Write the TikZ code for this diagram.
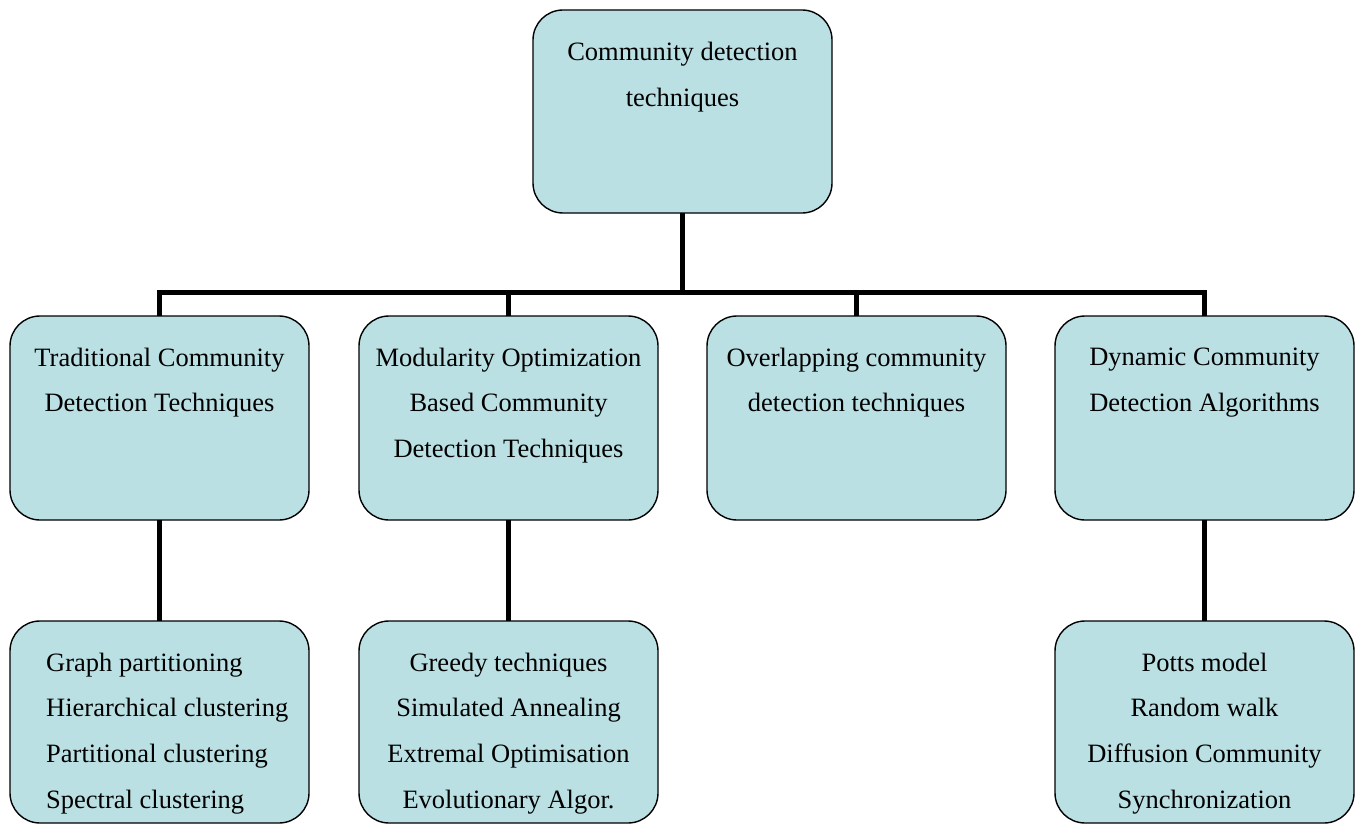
\documentclass[tikz,border=0pt]{standalone}
\usepackage{fontspec}
\setmainfont{Liberation Serif}
\definecolor{boxfill}{HTML}{BAE0E3}
\begin{document}
\begin{tikzpicture}[x=1pt,y=-1pt,
  box/.style={draw=black, line width=1.4pt, fill=boxfill, rounded corners=30pt,
    minimum width=299pt, inner sep=0pt, outer sep=0pt},
  label/.style={anchor=north, inner sep=0pt, align=center,
    font=\fontsize{26.5}{45.9}\selectfont},
  conn/.style={line width=5pt, draw=black, line join=miter}]
\useasboundingbox (0,0) rectangle (1356,824);
% top
\node[box, minimum height=203pt] (top) at (682.5,111.5) {};
% second row
\node[box, minimum height=204pt] (b1) at (159.5,418) {};
\node[box, minimum height=204pt] (b2) at (508.5,418) {};
\node[box, minimum height=204pt] (b3) at (856.5,418) {};
\node[box, minimum height=204pt] (b4) at (1204.5,418) {};
% third row
\node[box, minimum height=202pt] (c1) at (159.5,722) {};
\node[box, minimum height=202pt] (c2) at (508.5,722) {};
\node[box, minimum height=202pt] (c4) at (1204.5,722) {};
% texts
\node[label] (ttop) at ([yshift=-32pt]top.north) {Community detection\\techniques};
\node[label] (tb1) at ([yshift=-31.5pt]b1.north) {Traditional Community\\Detection Techniques};
\node[label] (tb2) at ([yshift=-31.5pt]b2.north) {Modularity Optimization\\Based Community\\Detection Techniques};
\node[label] (tb3) at ([yshift=-31.5pt]b3.north) {Overlapping community\\detection techniques};
\node[label] (tb4) at ([yshift=-31.5pt]b4.north) {Dynamic Community\\Detection Algorithms};
\node[label, anchor=north west, align=left] (tc1) at ([xshift=36pt,yshift=-31.5pt]c1.north west) {Graph partitioning\\Hierarchical clustering\\Partitional clustering\\Spectral clustering};
\node[label] (tc2) at ([yshift=-31.5pt]c2.north) {Greedy techniques\\Simulated Annealing\\Extremal Optimisation\\Evolutionary Algor.};
\node[label] (tc4) at ([yshift=-31.5pt]c4.north) {Potts model\\Random walk\\Diffusion Community\\Synchronization};
% connectors
\coordinate (bus) at (682.5,292);
\draw[conn] (top.south) -- (bus);
\draw[conn] (b1.north) |- (bus) -| (b4.north);
\draw[conn] (b2.north) -- (b2.north |- bus);
\draw[conn] (b3.north) -- (b3.north |- bus);
\draw[conn] (b1.south) -- (c1.north);
\draw[conn] (b2.south) -- (c2.north);
\draw[conn] (b4.south) -- (c4.north);
\end{tikzpicture}
\end{document}
